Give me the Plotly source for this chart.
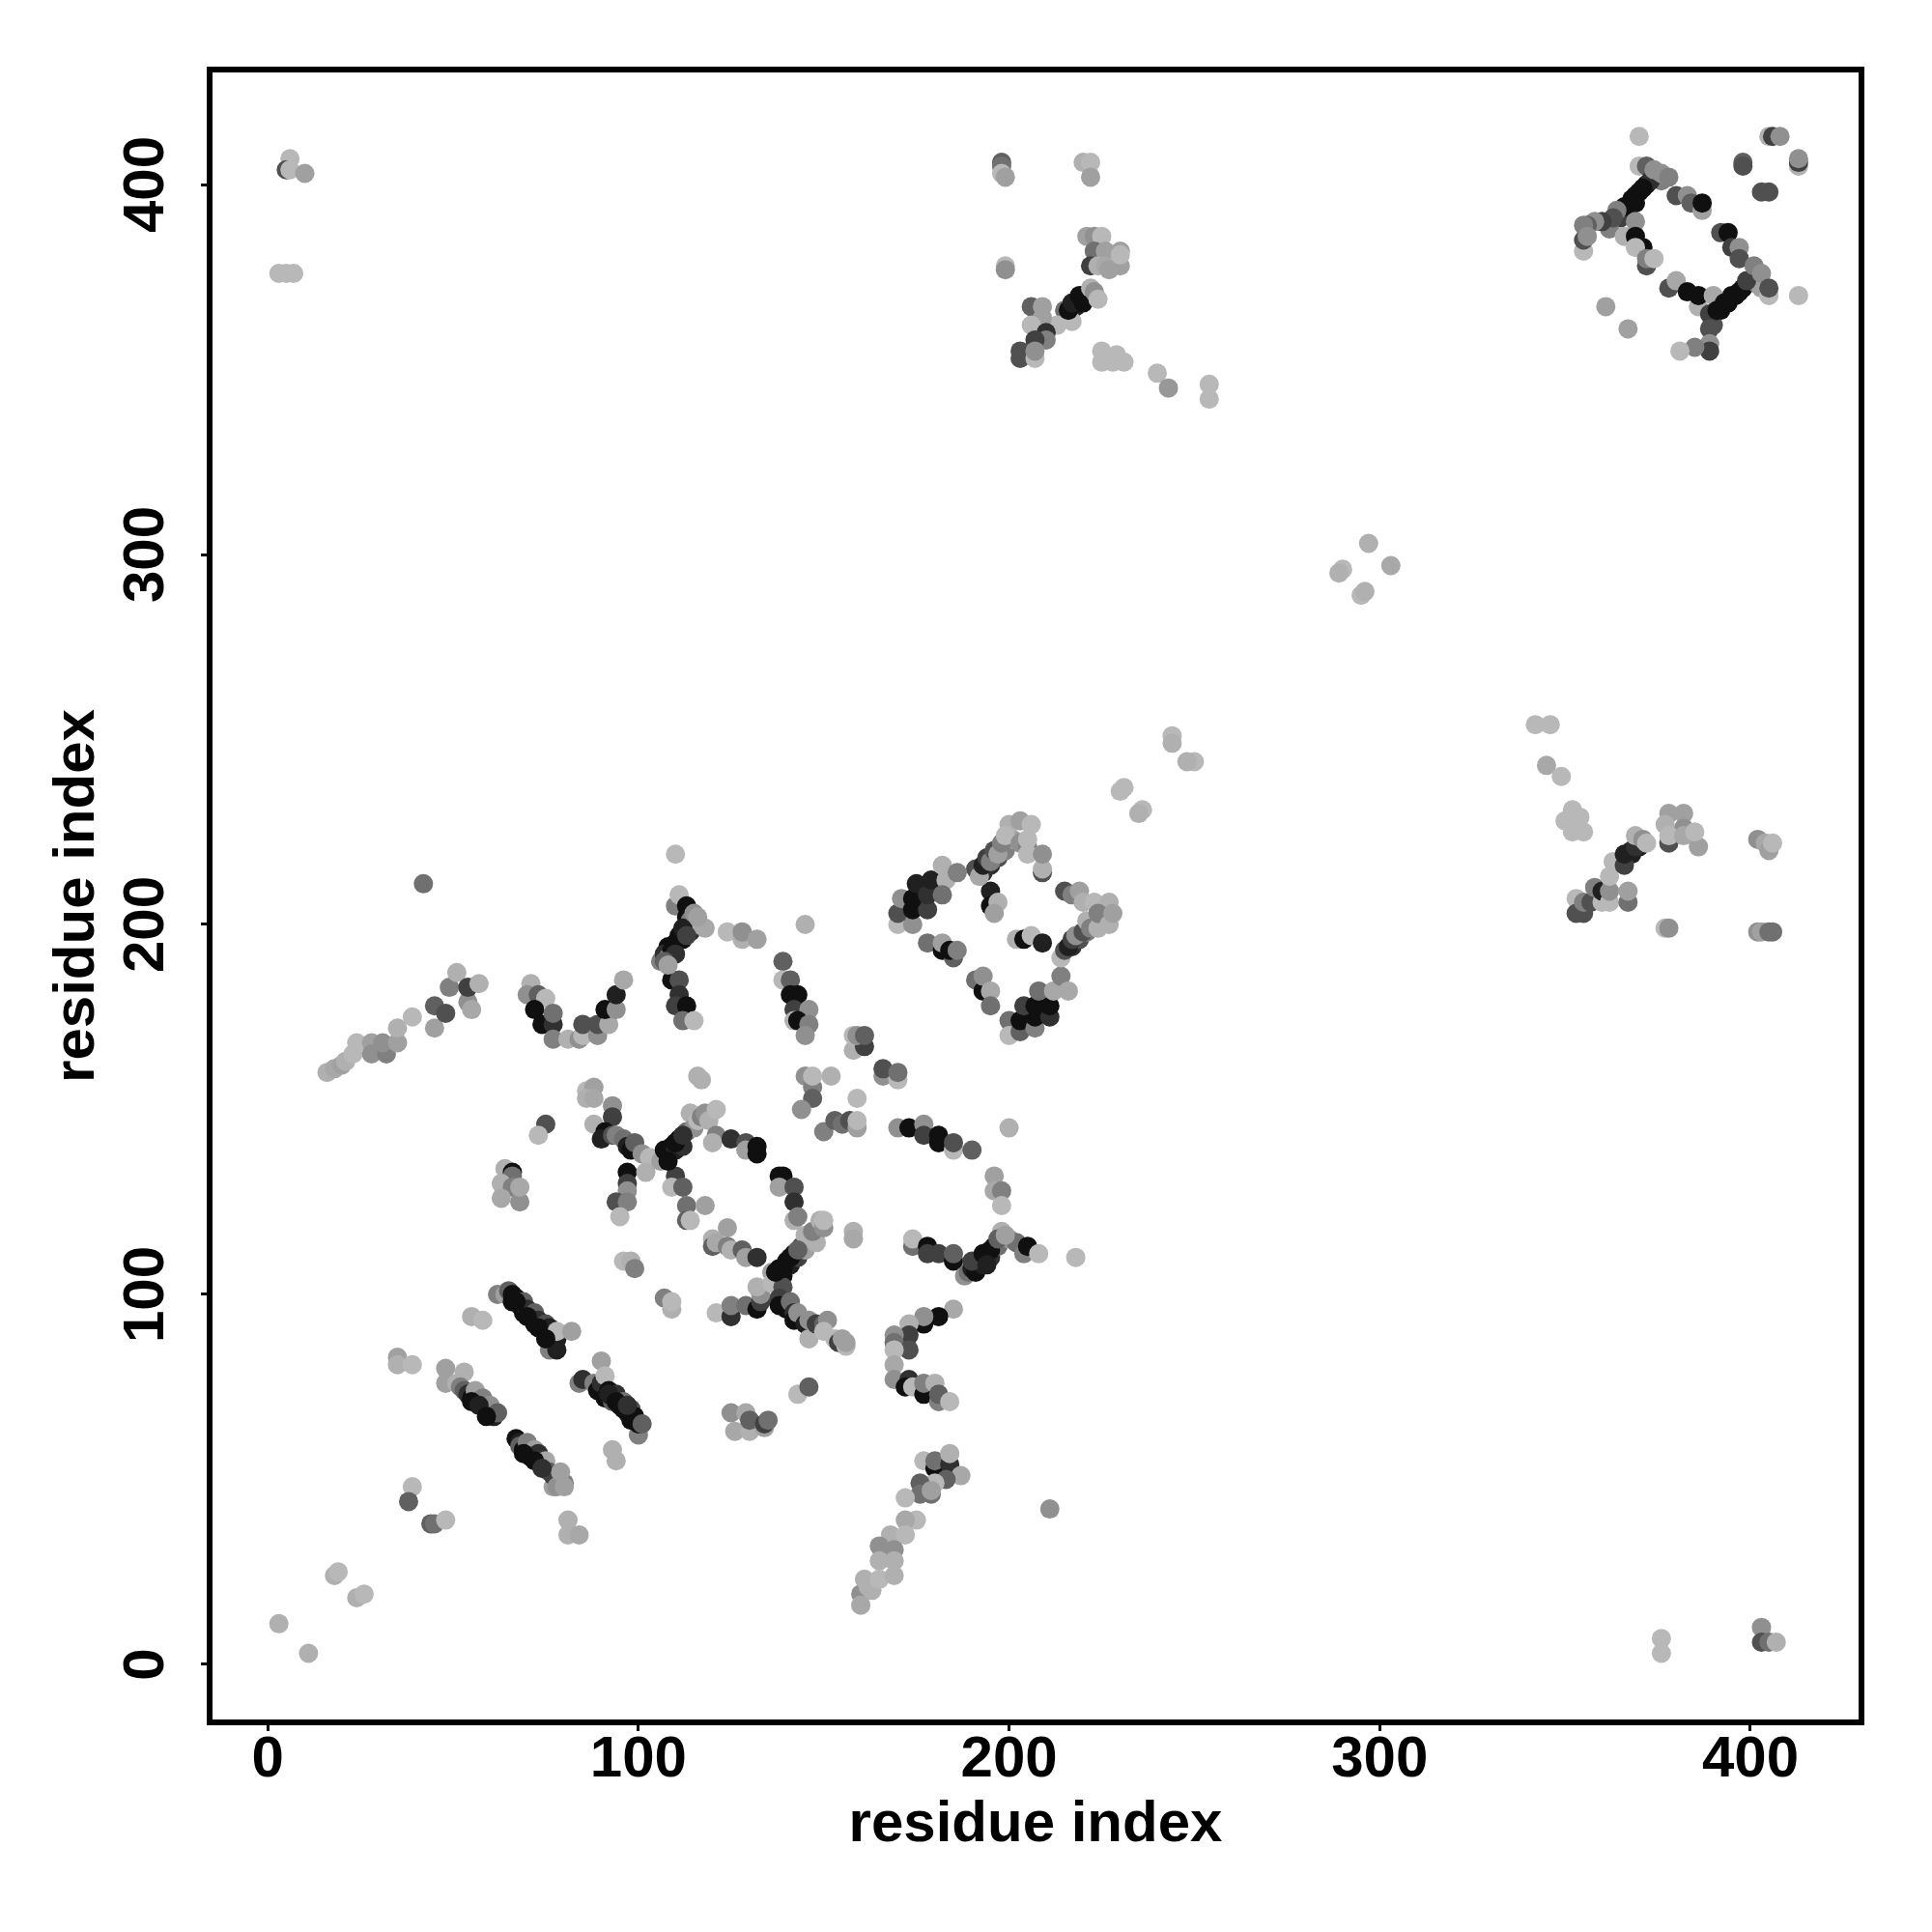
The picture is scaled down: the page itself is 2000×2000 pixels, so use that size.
import plotly.graph_objects as go

tick_values = [0, 100, 200, 300, 400]
axis_title = "residue index"

# every contact: (residue i, residue j, grey level)
near_origin = [(3,11,0xb0),(11,3,0xb0),(18,24,0xb0),(19,25,0xb8),(24,18,0xb0),(26,19,0xb8),(39,48,0xb8),(38,44,0x60),(44,38,0x60),(45,38,0x70),(48,39,0xb8),(81,39,0xb0),(81,35,0xb0),(84,35,0xa8),(55,94,0xb0),(58,93,0xb8),(35,83,0xa0),(35,81,0xb0),(39,81,0xb8)]
strip_a = [(48,76,0xa0),(48,80,0xa0),(51,76,0xb0),(53,79,0xb0),(52,75,0x80),(53,74,0x60),(54,73,0x30),(55,72,0x10),(56,74,0xa0),(57,71,0x20),(58,70,0x10),(58,72,0x80),(59,69,0x30),(60,68,0x10),(60,70,0x90),(61,67,0x20),(62,68,0x60)]
strip_b = [(67,61,0x10),(68,60,0x20),(68,59,0x60),(69,58,0x10),(70,60,0x80),(70,57,0x20),(71,56,0x10),(72,58,0xa0),(73,57,0x30),(73,55,0x40),(74,54,0x20),(75,55,0xa8),(77,48,0xa0),(76,52,0x60),(77,51,0x40),(80,49,0x80),(78,48,0x90),(79,52,0xa0),(80,48,0xa0)]
strip_c = [(62,100,0x80),(64,100,0xa0),(65,101,0x60),(66,100,0x10),(66,98,0x10),(67,99,0x10),(68,97,0x20),(69,98,0x60),(69,95,0x10),(70,96,0x30),(71,94,0x10),(72,95,0x60),(72,92,0x10),(73,93,0x30),(74,91,0x10),(75,92,0x50),(75,90,0x10),(76,91,0x20),(76,85,0x80),(78,85,0x20),(77,89,0x10),(78,88,0x20),(78,90,0xb8),(82,90,0xa0)]
strip_d = [(84,76,0x80),(85,77,0x30),(90,82,0xa0),(88,76,0x80),(89,74,0x10),(90,76,0x30),(91,78,0xb8),(91,72,0x10),(92,74,0x10),(93,71,0x60),(94,73,0x30),(95,70,0x10),(96,71,0x70),(97,68,0x20),(98,69,0x50),(98,66,0x10),(99,67,0x10),(100,62,0x80),(100,65,0x10),(101,65,0x60),(93,58,0xb0),(94,55,0xb0)]
small_clumps = [(64,134,0xb0),(66,133,0x10),(66,132,0x70),(63,130,0xb0),(66,129,0x80),(63,126,0xa8),(68,125,0x90),(68,129,0xa8),(75,146,0x50),(73,143,0xb8),(42,211,0x70),(6,407,0xb8),(5,404,0x50),(6,404,0xb8),(10,403,0xa0),(3,376,0xb8),(5,376,0xb8),(7,376,0xb8)]
upper_strip = [(16,160,0xb0),(18,161,0xa8),(20,162,0xa0),(21,163,0xb0),(23,165,0xb8),(24,168,0xb8),(28,168,0xa0),(28,165,0x90),(32,165,0x80),(31,168,0x90),(35,168,0xa0),(35,172,0xb0),(39,175,0xb8),(45,172,0xa0),(45,178,0x60),(48,176,0x50),(49,183,0x80),(51,187,0xb0),(54,179,0x90),(55,177,0xa8),(54,183,0x40),(57,184,0xb0)]
u_shape = [(71,184,0xb0),(70,181,0x90),(73,181,0x60),(75,180,0xb8),(72,177,0x10),(74,173,0x10),(77,173,0x30),(77,176,0x70),(77,169,0x80),(81,169,0xb0),(84,169,0x90),(85,170,0xb8),(85,173,0x50),(89,170,0x90),(89,173,0x50),(92,173,0xa8),(91,177,0x10),(94,177,0x90),(94,181,0x20),(96,185,0xa8)]
top_arc = [(110,219,0xb8),(110,205,0x80),(111,208,0xb8),(113,205,0x10),(113,202,0x10),(114,198,0x30),(112,196,0x10),(110,195,0x10),(108,194,0x10),(106,190,0x80),(107,192,0x30),(108,191,0xa0),(114,201,0x80),(116,200,0xa8),(118,199,0xa8),(109,185,0x10),(111,185,0x50),(111,181,0x30),(110,178,0x40),(113,178,0x10),(112,174,0x70),(115,174,0xb8),(124,198,0xb8),(128,196,0xb0),(128,198,0x90),(132,196,0xa0),(145,200,0xb0)]
side_arc = [(139,190,0x60),(139,185,0xb8),(141,185,0x60),(141,181,0x10),(143,181,0x10),(142,177,0x40),(146,177,0x90),(142,174,0xb0),(143,174,0x10),(146,173,0x80),(145,170,0x90),(158,166,0xb0),(161,167,0x40),(158,170,0xb8),(159,170,0x90),(161,170,0x60),(166,159,0x90),(170,158,0xb8),(166,161,0x50),(170,160,0x70)]
mid_clumps = [(145,159,0x90),(147,156,0x80),(147,153,0x60),(144,150,0x90),(152,159,0xb0),(147,159,0xb8),(159,153,0xb8),(150,144,0x80),(153,147,0x60),(155,146,0x70),(157,147,0x50),(159,145,0xa0),(159,147,0xb8),(116,159,0xb0),(117,158,0xb0),(170,145,0x90),(173,145,0x10),(177,146,0x90),(177,143,0x40),(181,141,0x10),(181,143,0x10),(185,139,0xb8),(185,141,0x50),(190,139,0x60),(200,145,0xb0)]
right_arc = [(196,132,0xa0),(196,128,0xa8),(198,128,0x80),(198,124,0xb8),(174,113,0x70),(174,115,0xb8),(178,113,0x10),(178,111,0x40),(181,111,0x40),(185,109,0x10),(185,111,0x60),(188,105,0x90),(189,106,0x70),(190,107,0x20),(191,106,0x10),(192,109,0x10),(193,108,0x20),(194,111,0x10),(195,110,0x30),(196,113,0x10),(197,113,0x70),(198,117,0xb0),(200,115,0x90),(202,114,0x70),(204,111,0x80),(205,113,0x10),(208,111,0xb8),(218,110,0xb8)]
cross_left = [(86,155,0xb8),(88,156,0xa0),(86,153,0xb0),(88,153,0xa8),(93,151,0x90),(93,148,0x40),(88,146,0xb0),(91,144,0x10),(90,142,0x20),(93,143,0x50),(94,143,0x80),(96,142,0x70),(97,140,0x20),(98,139,0x10),(99,141,0x60),(101,138,0x90),(103,137,0xb8),(97,133,0x10),(102,133,0xb0),(97,130,0x40),(97,128,0x90),(94,125,0x50),(97,125,0x80),(95,121,0xb8)]
cross_mid = [(106,136,0xa0),(107,139,0x10),(108,138,0x10),(109,140,0x10),(110,139,0x20),(111,142,0x10),(112,140,0x30),(113,144,0x70),(114,149,0xb0),(115,145,0x90),(116,147,0xb8),(117,148,0x80),(118,149,0x90),(119,147,0xb0),(121,150,0xb8),(121,143,0x80),(120,141,0xb0),(125,142,0x30),(129,141,0x50),(129,139,0xa0),(132,138,0x10),(132,140,0x10),(110,132,0x40),(109,129,0xb8),(112,129,0x60),(113,124,0x70),(118,124,0xa0),(113,120,0x60),(114,120,0xb8)]
cross_right = [(138,132,0x10),(139,132,0x10),(138,129,0xa0),(142,129,0x50),(142,125,0x30),(142,120,0xb0),(143,121,0x80),(136,106,0xa0),(138,107,0x10),(139,105,0x10),(140,109,0x10),(141,108,0x20),(142,111,0x10),(143,110,0x40),(144,113,0x40),(145,112,0xa0),(145,116,0xb0),(148,114,0xb0),(147,117,0x80),(149,120,0xb0),(150,118,0x90),(150,120,0xb8),(158,117,0xb0),(158,115,0xa8)]
low_arc = [(124,118,0xa0),(120,115,0xb0),(120,113,0x60),(121,114,0xa8),(124,113,0x80),(125,112,0xb0),(128,112,0x60),(129,110,0xa0),(132,110,0x30),(96,109,0xb8),(98,109,0xb0),(99,107,0x80),(107,99,0x80),(109,96,0xb0),(109,98,0xb8),(121,95,0xb8),(125,94,0x30),(125,97,0x80),(129,97,0x70),(132,96,0x10),(133,98,0x40),(133,100,0x90),(132,102,0xb0),(136,103,0xb8),(139,102,0x50)]
low_cross = [(138,99,0x40),(138,97,0x10),(140,96,0x10),(141,98,0x70),(142,95,0x30),(142,93,0x10),(143,95,0x90),(145,92,0x20),(146,93,0x90),(146,88,0xb0),(148,92,0x40),(150,92,0x60),(151,93,0x90),(150,90,0xb8),(153,88,0xb8),(154,87,0x40),(155,88,0xa0),(156,86,0xb8),(156,87,0xa0),(143,73,0xb8),(146,75,0x60)]
left_c = [(185,96,0xa8),(181,94,0x10),(177,92,0x10),(177,94,0x90),(173,92,0xb0),(173,89,0x40),(169,89,0x90),(169,87,0x70),(173,85,0x50),(169,85,0xb8),(169,81,0xa8),(169,77,0x90),(173,77,0x30),(172,75,0x10),(174,75,0xb8),(177,73,0x10),(177,76,0x80),(180,76,0xb0),(181,71,0x80),(181,73,0x60),(184,71,0xb8)]
lower_bits = [(125,68,0x90),(126,63,0xa8),(129,68,0xa8),(130,63,0xb0),(130,66,0x60),(134,64,0xa0),(134,65,0x40),(135,66,0x70)]
lower_band = [(177,55,0xb8),(180,53,0x10),(180,55,0x70),(184,54,0x30),(184,57,0xb0),(187,51,0xa8),(183,50,0x60),(180,49,0xb8),(176,49,0x60),(176,46,0x70),(179,46,0x70),(179,47,0xa0),(172,45,0xb8),(175,39,0xb8),(172,39,0xa8),(168,35,0xb0),(172,35,0xb8),(165,32,0x90),(169,31,0x90),(165,28,0xb0),(169,28,0xb0),(160,19,0x90),(160,16,0xa8),(161,23,0xb0),(162,21,0xb0),(163,20,0xb0),(165,23,0xb8),(169,24,0xb0),(211,42,0x90)]
diamond_left = [(170,200,0xb8),(174,200,0x90),(170,203,0x50),(171,207,0x90),(174,204,0x10),(178,204,0x40),(174,207,0x10),(175,211,0x20),(178,208,0x30),(179,212,0x20),(182,216,0xb0),(183,212,0xb0),(182,208,0x70),(186,214,0x80),(178,195,0x70),(182,193,0x10),(182,195,0xa0),(185,191,0x60),(184,193,0x10),(186,193,0x80)]
diamond_low = [(191,185,0x70),(193,182,0x10),(193,186,0x90),(195,182,0xa8),(195,178,0x70),(200,174,0x70),(200,170,0xb8),(203,171,0x60),(203,174,0x10),(207,172,0x80),(207,175,0x10),(211,175,0x30),(204,178,0x40),(207,178,0x10),(211,178,0x10),(208,182,0x70),(212,182,0xa8),(214,186,0x80),(216,182,0xa8)]
diamond_core = [(195,209,0x20),(195,205,0x10),(197,206,0xb0),(196,203,0xa0),(202,196,0xb0),(204,196,0x10),(206,197,0xb8),(209,195,0x20)]
diamond_top = [(191,215,0x50),(192,213,0xa8),(193,216,0x20),(194,218,0x40),(195,217,0x80),(196,220,0x50),(197,219,0xa0),(198,222,0x80),(200,227,0xb0),(199,224,0xb8),(203,228,0xa0),(203,222,0x90),(205,221,0x80),(206,227,0xb8),(205,223,0xb8),(205,219,0xb8),(209,214,0x50),(209,215,0xb0),(209,219,0x90)]
diamond_right = [(215,209,0x50),(217,208,0x80),(219,209,0xa0),(220,206,0xb0),(223,206,0xb8),(227,206,0xb0),(214,191,0xb8),(215,193,0x50),(216,194,0x20),(217,196,0x40),(218,197,0x90),(220,198,0x50),(221,201,0xb0),(222,199,0x80),(224,199,0xb0),(224,203,0x80),(227,200,0xb0),(228,203,0xa0)]
diagonal_pts = [(231,237,0xb8),(230,236,0xb8),(236,231,0xb8),(235,230,0xb0),(244,251,0xb8),(244,249,0xb0),(250,244,0xb8),(248,244,0xb0),(290,296,0xb8),(289,295,0xb0),(297,303,0xb0),(303,297,0xa8),(295,289,0xb8),(296,290,0xb0),(342,254,0xb8),(346,254,0xb8),(345,243,0xa8),(349,240,0xb8)]
right_mid = [(352,231,0xb8),(350,228,0xb8),(354,229,0xb8),(352,225,0xb8),(355,225,0xb8),(353,207,0xb8),(353,203,0x50),(355,203,0x50),(355,206,0x80),(357,206,0x50),(358,210,0x80),(360,206,0xb8),(360,209,0x20),(362,206,0xb8),(362,209,0x90),(362,213,0xb8),(367,206,0x70),(367,209,0xa0),(363,217,0xb8),(366,216,0x40),(366,219,0x20),(368,220,0x20),(369,221,0x30),(369,224,0xb0),(371,223,0x90),(372,222,0xb8)]
right_clump = [(378,230,0xa0),(382,230,0xa0),(377,227,0xb0),(382,226,0x90),(378,222,0x50),(378,224,0xb8),(382,224,0xa8),(386,221,0xa0),(385,225,0xb8),(377,199,0xb8),(378,199,0x90),(402,223,0x90),(404,222,0xa8),(405,220,0xa0),(406,222,0xb8),(402,198,0x90),(403,198,0xa0),(405,198,0x70),(406,198,0x70)]
top_right_a = [(370,413,0xb8),(370,405,0xb8),(372,405,0x60),(373,401,0x30),(371,399,0x10),(369,397,0x10),(368,396,0x10),(366,394,0x10),(364,393,0x80),(363,391,0x50),(360,390,0x40),(358,390,0x90),(356,389,0x60),(355,389,0x80),(355,382,0xb8),(355,385,0x50),(356,386,0x90),(374,404,0x90),(376,403,0x90),(378,402,0x80),(369,390,0x90),(366,386,0xb0),(369,386,0x10),(371,383,0x10),(369,383,0xb8),(372,378,0x50),(372,380,0x80),(374,380,0xb8)]
top_right_b = [(380,397,0x50),(383,397,0x90),(384,395,0x60),(387,393,0xa0),(387,395,0x10),(392,387,0x50),(394,387,0x10),(395,383,0x40),(397,383,0x90),(397,380,0x50)]
top_right_c = [(378,372,0x50),(380,374,0xa8),(383,371,0x10),(386,367,0xb0),(386,370,0x10),(390,370,0xa8),(389,365,0x40),(391,366,0x10),(393,368,0x10),(395,370,0x10),(397,371,0x10),(399,374,0x40),(401,378,0x80),(403,376,0x90),(405,370,0xb8),(405,372,0x50),(413,370,0xb8),(389,361,0x50),(389,357,0x90),(389,355,0x40),(385,356,0x80),(381,355,0xb8),(361,367,0xa0),(367,361,0xa0)]
top_right_d = [(398,406,0x60),(398,405,0x50),(403,398,0x50),(405,398,0x50),(405,413,0xb0),(406,413,0x40),(408,413,0x90),(413,405,0xb0),(413,406,0x40),(413,407,0x90)]
top_mid = [(198,406,0x60),(198,405,0x70),(198,403,0xb8),(199,402,0xa0),(220,406,0xb0),(222,406,0xb8),(222,402,0xa0),(199,378,0xb8),(199,377,0x90),(221,386,0xa0),(223,386,0x90),(225,386,0xb8),(223,382,0x70),(226,382,0xa0),(230,382,0xa0),(222,378,0x40),(224,378,0xb0),(226,378,0xa8),(227,377,0xa0),(230,378,0xa0),(230,381,0xb8)]
top_mid_diag = [(215,366,0x70),(217,363,0xb8),(213,362,0xb8),(216,366,0x10),(217,368,0x20),(219,370,0x10),(220,368,0x10),(222,372,0xb0),(223,371,0x90),(224,369,0xb8),(206,367,0x60),(209,367,0xa0),(209,364,0xa0),(206,362,0xb8),(210,360,0x30),(210,358,0x80),(207,358,0x40),(203,355,0x50),(203,353,0x50),(207,353,0xb8),(207,355,0x90)]
top_mid_tail = [(225,355,0xb8),(225,352,0xb8),(228,352,0xb8),(229,354,0xb8),(231,352,0xb8),(240,349,0xb8),(243,345,0x98),(254,346,0xb8),(254,342,0xb8),(376,7,0xb8),(376,3,0xb8),(403,10,0x90),(403,6,0x50),(405,6,0x70),(407,6,0xb0)]
# extra overlapping contacts in the densest arms
dense_arms = [(109,193,0x10),(111,197,0x10),(112,199,0x20),(113,197,0x40),(110,192,0x30),(107,190,0x60),(108,189,0xa0),(115,203,0x90),(116,202,0xa0),
              (190,109,0x40),(193,111,0x10),(195,112,0x10),(194,108,0x20),(197,115,0x60),(199,116,0xa0),
              (108,136,0x10),(110,141,0x10),(112,143,0x30),(137,106,0x10),(139,107,0x10),(141,110,0x10),(143,112,0x60),
              (92,73,0x20),(94,71,0x10),(96,69,0x10),(97,70,0x30),(67,98,0x10),(70,94,0x10),(73,91,0x10),(75,88,0x10),
              (55,71,0x10),(57,70,0x20),(59,67,0x10),(69,57,0x10),(72,55,0x10),(74,53,0x30),
              (367,393,0x10),(369,395,0x10),(370,398,0x10),(372,400,0x10),(374,402,0x40),(376,401,0x80),(365,391,0x40),(362,388,0x80),
              (392,366,0x10),(394,368,0x10),(396,370,0x10),(398,372,0x10),(400,374,0x40),(402,373,0x80),(403,372,0xa0),(390,362,0x50),
              (218,367,0x20),(220,370,0x20),(366,218,0x20),(368,219,0x20),(370,221,0x20),
              (193,214,0x30),(195,216,0x30),(197,218,0x50),(199,220,0x80),(201,223,0xa0),(217,194,0x30),(219,196,0x50),(221,198,0x80),(223,201,0xa0)]

groups = [near_origin, strip_a, strip_b, strip_c, strip_d, small_clumps, upper_strip, u_shape, top_arc, side_arc,
          mid_clumps, right_arc, cross_left, cross_mid, cross_right, low_arc, low_cross, left_c, lower_bits, lower_band,
          dense_arms, diamond_left, diamond_low, diamond_core, diamond_top, diamond_right, diagonal_pts, right_mid, right_clump,
          top_right_a, top_right_b, top_right_c, top_right_d, top_mid, top_mid_diag, top_mid_tail]
contacts = [p for g in groups for p in g]
xs = [p[0] for p in contacts]
ys = [p[1] for p in contacts]
colors = [f"rgb({p[2]},{p[2]},{p[2]})" for p in contacts]

fig = go.Figure(go.Scatter(x=xs, y=ys, mode="markers",
                           marker=dict(size=20, color=colors, line=dict(width=0)),
                           showlegend=False, hoverinfo="skip"))

FONT = "Liberation Sans"
common = dict(showline=True, mirror=True, linecolor="black", linewidth=6, showgrid=False, zeroline=False,
              ticks="outside", ticklen=6, tickwidth=3, tickcolor="black",
              tickmode="array", tickvals=tick_values, ticktext=[str(v) for v in tick_values],
              tickfont=dict(family=FONT, size=60, color="black", weight="bold"))
fig.update_layout(
    width=2000, height=2000, paper_bgcolor="white", plot_bgcolor="white",
    margin=dict(l=212, r=84, t=67, b=228, autoexpand=False),
    font=dict(family=FONT),
    xaxis=dict(range=[-14.9, 429.2], ticklabelstandoff=-25, **common,
               title=dict(text=axis_title, standoff=9, font=dict(family=FONT, size=60, color="black", weight="bold"))),
    yaxis=dict(range=[-14.9, 430.3], tickangle=-90, ticklabelstandoff=15, ticklabelshift=9, **common,
               title=dict(text=axis_title, standoff=0, font=dict(family=FONT, size=60, color="black", weight="bold"))),
)
fig.write_html("out.html")
